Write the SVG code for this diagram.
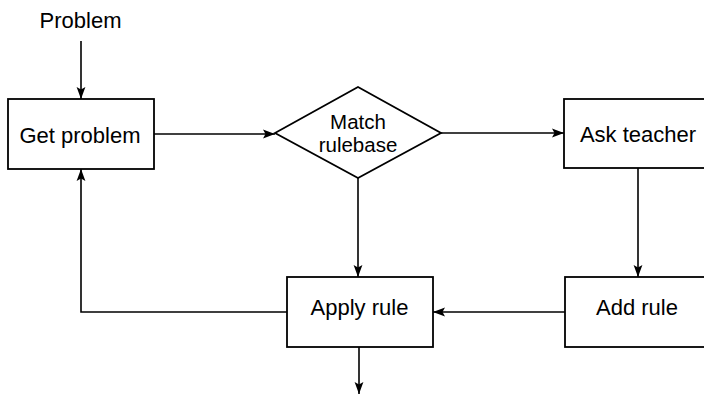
<svg xmlns="http://www.w3.org/2000/svg" width="704" height="395" viewBox="0 0 704 395">
<style>
.box{fill:#fff;stroke:#000;stroke-width:1.8}
.lbl{font-family:"Liberation Sans",Arial,sans-serif;font-size:22px;fill:#000;text-anchor:middle}
.dia{font-size:20.5px}
.con{fill:none;stroke:#000;stroke-width:1.6}
</style>
<defs>
<marker id="ah" markerUnits="userSpaceOnUse" markerWidth="13" markerHeight="10" refX="12" refY="5" orient="auto">
<path d="M0,0.6 L12,5 L0,9.4 L2.5,5 z" fill="#000"/>
</marker>
</defs>
<rect width="704" height="395" fill="#fff"/>
<g id="connectors">
<path class="con" d="M81,41 V99" marker-end="url(#ah)"/>
<path class="con" d="M154,134 H275" marker-end="url(#ah)"/>
<path class="con" d="M441,133 H564" marker-end="url(#ah)"/>
<path class="con" d="M638,168 V277" marker-end="url(#ah)"/>
<path class="con" d="M565,312 H433" marker-end="url(#ah)"/>
<path class="con" d="M358,178 V277" marker-end="url(#ah)"/>
<path class="con" d="M287,312 H81 V169" marker-end="url(#ah)"/>
<path class="con" d="M359,347 V394" marker-end="url(#ah)"/>
</g>
<g id="problem-label">
<text class="lbl" x="80.5" y="28">Problem</text>
</g>
<g id="get-problem">
<rect class="box" x="8" y="99" width="146" height="70"/>
<text class="lbl" x="80" y="143">Get problem</text>
</g>
<g id="match-rulebase">
<polygon class="box" points="275,133 358,87 441,133 358,178"/>
<text class="lbl dia" x="358" y="128.5">Match</text>
<text class="lbl dia" x="358" y="152">rulebase</text>
</g>
<g id="ask-teacher">
<rect class="box" x="564" y="99" width="150" height="69"/>
<text class="lbl" x="638" y="142">Ask teacher</text>
</g>
<g id="apply-rule">
<rect class="box" x="287" y="277" width="146" height="70"/>
<text class="lbl" x="359.5" y="315">Apply rule</text>
</g>
<g id="add-rule">
<rect class="box" x="565" y="277" width="150" height="70"/>
<text class="lbl" x="637" y="315">Add rule</text>
</g>
</svg>
